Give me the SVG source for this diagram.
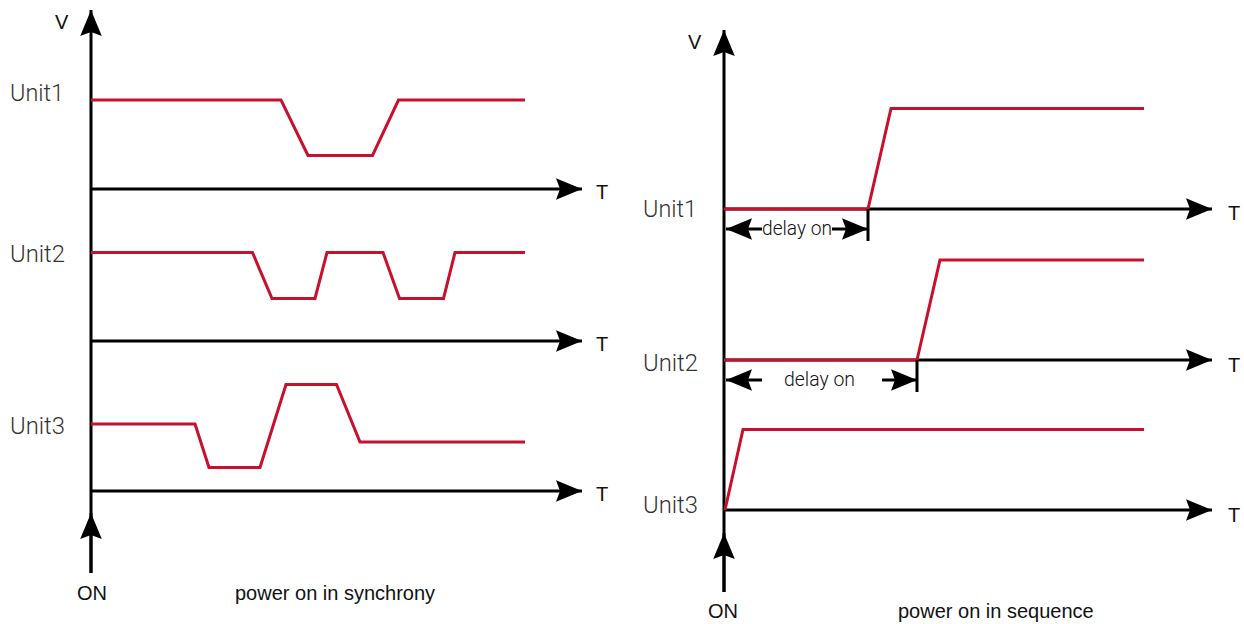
<svg xmlns="http://www.w3.org/2000/svg" width="1244" height="624" viewBox="0 0 1244 624">
<style>
.ax{stroke:#000;stroke-width:3;fill:none}
.sig{stroke:#c8102e;stroke-width:3;fill:none;stroke-linejoin:miter}
.lbl{font-family:"Liberation Sans",Arial,sans-serif;font-size:20px;fill:#111}
.unit{font-family:Roboto,"Noto Sans",sans-serif;font-weight:300;font-size:23px;fill:#333}
.dl{font-family:Roboto,"Noto Sans",sans-serif;font-weight:300;font-size:21px;fill:#111}
</style>
<defs>
<marker id="ah" markerUnits="userSpaceOnUse" markerWidth="30" markerHeight="24" viewBox="0 -12 30 24" refX="26" refY="0" orient="auto">
<path d="M0,-10.8 L26,0 L0,10.8 L4,0 Z" fill="#000"/>
</marker>
</defs>

<g id="left-panel">
<g id="left-axes" class="connectors">
<line class="ax" x1="91" y1="573" x2="91" y2="10" marker-end="url(#ah)"/>
<line class="ax" x1="91" y1="573" x2="91" y2="513" marker-end="url(#ah)"/>
<line class="ax" x1="91" y1="189" x2="582" y2="189" marker-end="url(#ah)"/>
<line class="ax" x1="91" y1="341" x2="582" y2="341" marker-end="url(#ah)"/>
<line class="ax" x1="91" y1="491" x2="582" y2="491" marker-end="url(#ah)"/>
</g>
<g id="left-unit1">
<polyline class="sig" points="91,100 281,100 308,155.5 372.5,155.5 398.5,100 525,100"/>
<text class="unit" x="10" y="101" textLength="54" lengthAdjust="spacingAndGlyphs">Unit1</text>
</g>
<g id="left-unit2">
<polyline class="sig" points="91,252.5 252.5,252.5 272,298.5 315,298.5 327,252.5 383,252.5 399.5,298.5 443.5,298.5 455,252.5 525,252.5"/>
<text class="unit" x="10" y="262" textLength="55" lengthAdjust="spacingAndGlyphs">Unit2</text>
</g>
<g id="left-unit3">
<polyline class="sig" points="91,424 195,424 209,467.5 260,467.5 286,384.5 336.5,384.5 360,442 525,442"/>
<text class="unit" x="10" y="434" textLength="55" lengthAdjust="spacingAndGlyphs">Unit3</text>
</g>
<g id="left-labels">
<text class="lbl" x="55" y="29">V</text>
<text class="lbl" x="596" y="199">T</text>
<text class="lbl" x="596" y="351">T</text>
<text class="lbl" x="596" y="501">T</text>
<text class="lbl" x="77" y="600">ON</text>
<text class="lbl" x="235" y="600">power on in synchrony</text>
</g>
</g>

<g id="right-panel">
<g id="right-axes" class="connectors">
<line class="ax" x1="724" y1="592" x2="724" y2="30" marker-end="url(#ah)"/>
<line class="ax" x1="724" y1="592" x2="724" y2="533" marker-end="url(#ah)"/>
<line class="ax" x1="724" y1="209" x2="1212" y2="209" marker-end="url(#ah)"/>
<line class="ax" x1="724" y1="360" x2="1212" y2="360" marker-end="url(#ah)"/>
<line class="ax" x1="724" y1="510" x2="1212" y2="510" marker-end="url(#ah)"/>
</g>
<g id="right-unit1">
<polyline class="sig" points="724,209 868,209 891,108.5 1144,108.5"/>
<text class="unit" x="643" y="217" textLength="54" lengthAdjust="spacingAndGlyphs">Unit1</text>
</g>
<g id="right-unit2">
<polyline class="sig" points="724,360 917,360 940,260 1144,260"/>
<text class="unit" x="643" y="371" textLength="55" lengthAdjust="spacingAndGlyphs">Unit2</text>
</g>
<g id="right-unit3">
<polyline class="sig" points="725,510 743,429.5 1144,429.5"/>
<text class="unit" x="643" y="513" textLength="55" lengthAdjust="spacingAndGlyphs">Unit3</text>
</g>
<g id="delay1" class="connectors">
<line class="ax" x1="762" y1="229" x2="726" y2="229" marker-end="url(#ah)"/>
<line class="ax" x1="832" y1="229" x2="868" y2="229" marker-end="url(#ah)"/>
<line class="ax" x1="868" y1="209" x2="868" y2="241" stroke-width="2"/>
<text class="dl" x="762" y="235" textLength="70" lengthAdjust="spacingAndGlyphs">delay on</text>
</g>
<g id="delay2" class="connectors">
<line class="ax" x1="762" y1="380" x2="726" y2="380" marker-end="url(#ah)"/>
<line class="ax" x1="882" y1="380" x2="917" y2="380" marker-end="url(#ah)"/>
<line class="ax" x1="917" y1="360" x2="917" y2="392" stroke-width="2"/>
<text class="dl" x="784" y="386" textLength="71" lengthAdjust="spacingAndGlyphs">delay on</text>
</g>
<g id="right-labels">
<text class="lbl" x="688" y="49">V</text>
<text class="lbl" x="1228" y="220">T</text>
<text class="lbl" x="1228" y="372">T</text>
<text class="lbl" x="1228" y="522">T</text>
<text class="lbl" x="708" y="618">ON</text>
<text class="lbl" x="898" y="618">power on in sequence</text>
</g>
</g>
</svg>
